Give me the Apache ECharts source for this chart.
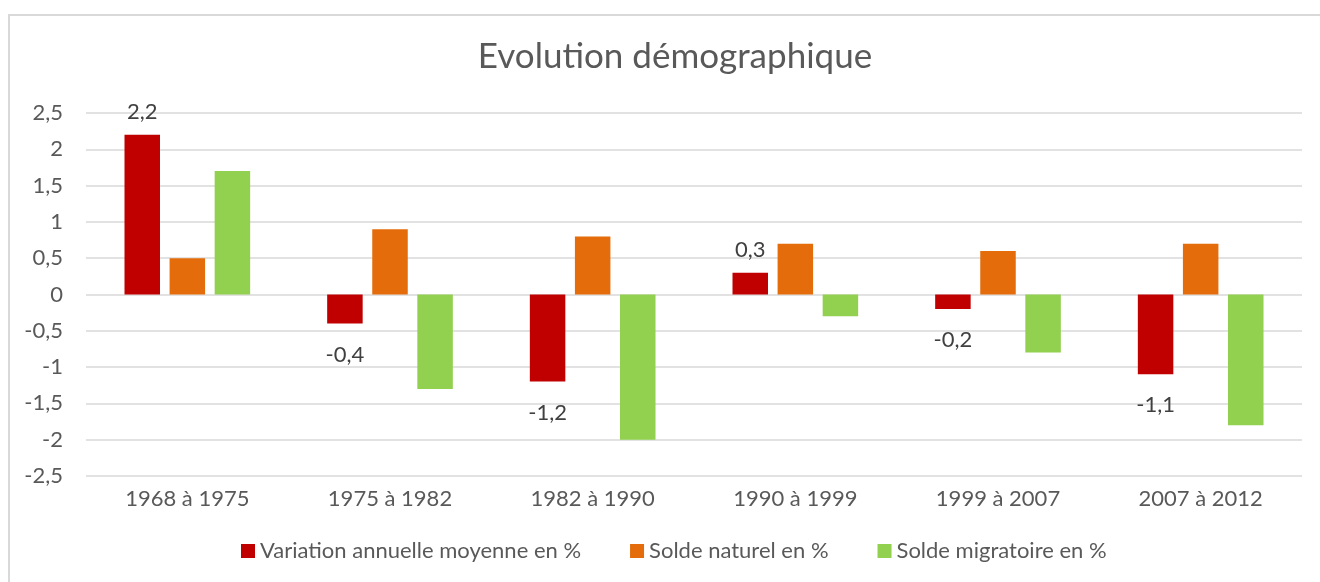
<!DOCTYPE html>
<html lang="fr">
  <head>
    <meta charset="utf-8" />
    <title>Evolution démographique</title>
    <script type="text/javascript" src="https://cdn.jsdelivr.net/npm/echarts@6/dist/echarts.min.js"></script>
    <style>
      html, body { margin: 0; padding: 0; background: #fff; }
      #chart { width: 1320px; height: 582px; }
    </style>
  </head>
  <body>
    <div id="chart"></div>
    <script>
      var periods = ['1968 à 1975', '1975 à 1982', '1982 à 1990', '1990 à 1999', '1999 à 2007', '2007 à 2012']
      var variationAnnuelle = [2.2, -0.4, -1.2, 0.3, -0.2, -1.1]
      var soldeNaturel = [0.5, 0.9, 0.8, 0.7, 0.6, 0.7]
      var soldeMigratoire = [1.7, -1.3, -2.0, -0.3, -0.8, -1.8]

      var FONT = 'Lato'
      var TEXT = '#595959'

      function fr (v) {
        return String(v).replace('.', ',')
      }

      window.onload = function () {
        var chart = echarts.init(document.getElementById('chart'))
        chart.setOption({
          animation: false,
          textStyle: { fontFamily: FONT },
          title: {
            text: 'Evolution démographique',
            left: 670, textAlign: 'center', top: 34,
            textStyle: { fontFamily: FONT, fontSize: 35, fontWeight: 'normal', color: TEXT }
          },
          graphic: [{
            type: 'rect', silent: true, z: -1,
            shape: { x: 9, y: 15, width: 1400, height: 700 },
            style: { fill: 'none', stroke: '#d9d9d9', lineWidth: 2 }
          }],
          legend: {
            bottom: 15, left: 236,
            itemWidth: 14, itemHeight: 14, itemGap: 49,
            icon: 'rect',
            textStyle: { fontFamily: FONT, fontSize: 22, color: TEXT }
          },
          grid: { left: 86, right: 18, top: 113, bottom: 106, containLabel: false },
          xAxis: {
            type: 'category',
            data: periods,
            axisLine: { show: false, onZero: false },
            axisTick: { show: false },
            axisLabel: { fontFamily: FONT, fontSize: 22, color: TEXT, margin: 12 }
          },
          yAxis: {
            type: 'value',
            min: -2.5, max: 2.5, interval: 0.5,
            axisLine: { show: false },
            axisTick: { show: false },
            splitLine: { lineStyle: { color: '#d9d9d9', width: 1.5 } },
            axisLabel: { fontFamily: FONT, fontSize: 22, color: TEXT, margin: 23, formatter: fr }
          },
          series: [
            {
              name: 'Variation annuelle moyenne en %',
              type: 'bar',
              barWidth: 35.5, barGap: '27%',
              itemStyle: { color: '#C00000' },
              data: variationAnnuelle.map(function (v) {
                return {
                  value: v,
                  label: {
                    show: true,
                    position: v >= 0 ? 'top' : 'bottom',
                    distance: v >= 0 ? 12 : 20,
                    formatter: function (p) { return fr(p.value) },
                    fontFamily: FONT, fontSize: 22, color: '#404040'
                  }
                }
              })
            },
            {
              name: 'Solde naturel en %',
              type: 'bar',
              barWidth: 35.5, barGap: '27%',
              itemStyle: { color: '#E46C0A' },
              data: soldeNaturel
            },
            {
              name: 'Solde migratoire en %',
              type: 'bar',
              barWidth: 35.5, barGap: '27%',
              itemStyle: { color: '#92D050' },
              data: soldeMigratoire
            }
          ]
        })
      }
    </script>
  </body>
</html>
